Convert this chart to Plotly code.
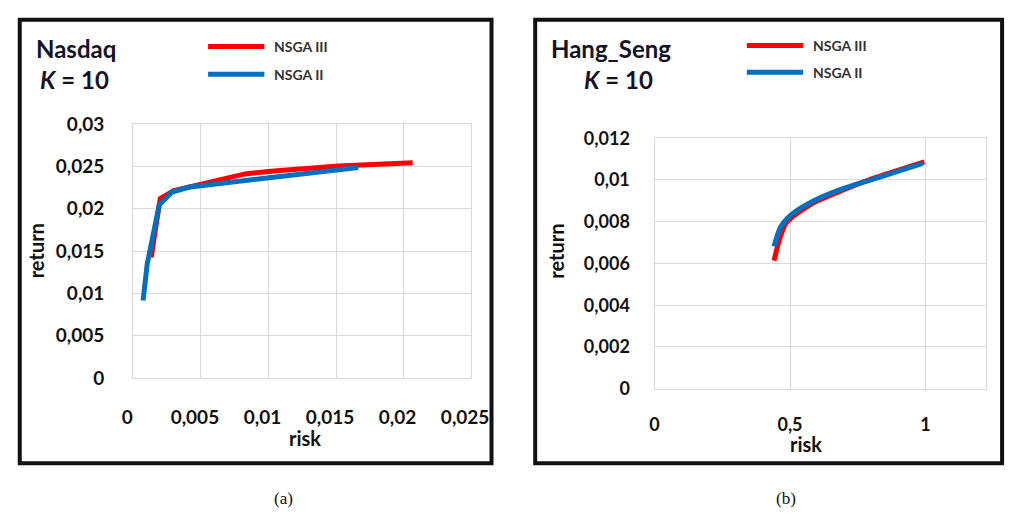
import plotly.graph_objects as go

# Efficient frontiers (risk vs. return) for two markets, K = 10 assets
nasdaq_nsga3_risk = [0.00132, 0.00199, 0.0030, 0.00515, 0.00826, 0.01018, 0.0152, 0.02067]
nasdaq_nsga3_return = [0.01425, 0.0212, 0.02214, 0.0229, 0.0241, 0.0244, 0.02504, 0.02541]
nasdaq_nsga2_risk = [0.00072, 0.00103, 0.00192, 0.00287, 0.00407, 0.00515, 0.01006, 0.01664]
nasdaq_nsga2_return = [0.00917, 0.0135, 0.02045, 0.02196, 0.02252, 0.0227, 0.02365, 0.02485]

hangseng_nsga3_risk = [0.441, 0.459, 0.483, 0.506, 0.590, 0.698, 0.817, 0.996]
hangseng_nsga3_return = [0.00614, 0.00705, 0.00789, 0.0082, 0.00893, 0.00953, 0.01012, 0.01087]
hangseng_nsga2_risk = [0.441, 0.465, 0.506, 0.590, 0.698, 0.817, 0.990]
hangseng_nsga2_return = [0.00682, 0.00774, 0.00835, 0.00902, 0.00960, 0.01008, 0.0108]

nasdaq_x_ticks = [0, 0.005, 0.01, 0.015, 0.02, 0.025]
nasdaq_y_ticks = [0, 0.005, 0.01, 0.015, 0.02, 0.025, 0.03]
hangseng_x_ticks = [0, 0.5, 1]
hangseng_y_ticks = [0, 0.002, 0.004, 0.006, 0.008, 0.01, 0.012]

series_names = ["NSGA III", "NSGA II"]
panel_titles = ["Nasdaq", "Hang_Seng"]
captions = ["(a)", "(b)"]

W, H = 1023, 525
RED = "#ff0000"
BLUE = "#0070c0"
GRID = "#d9d9d9"
FONT = "Lato"


def px(x):
    return x / W


def py(y):
    return 1 - y / H


fig = go.Figure()

fig.add_trace(go.Scatter(x=nasdaq_nsga3_risk, y=nasdaq_nsga3_return, name=series_names[0],
                         mode="lines", line=dict(color=RED, width=5), xaxis="x", yaxis="y",
                         showlegend=False))
fig.add_trace(go.Scatter(x=nasdaq_nsga2_risk, y=nasdaq_nsga2_return, name=series_names[1],
                         mode="lines", line=dict(color=BLUE, width=5), xaxis="x", yaxis="y",
                         showlegend=False))
fig.add_trace(go.Scatter(x=hangseng_nsga3_risk, y=hangseng_nsga3_return, name=series_names[0],
                         mode="lines", line=dict(color=RED, width=5, shape="spline", smoothing=0.7),
                         xaxis="x2", yaxis="y2", showlegend=False))
fig.add_trace(go.Scatter(x=hangseng_nsga2_risk, y=hangseng_nsga2_return, name=series_names[1],
                         mode="lines", line=dict(color=BLUE, width=5, shape="spline", smoothing=0.7),
                         xaxis="x2", yaxis="y2", showlegend=False))

axis_common = dict(showgrid=True, gridcolor=GRID, gridwidth=1.3, zeroline=False,
                   showline=True, linecolor=GRID, linewidth=1.3, mirror=True,
                   ticks="", tickangle=0, fixedrange=True)

fig.update_layout(
    width=W, height=H,
    margin=dict(l=0, r=0, t=0, b=0),
    paper_bgcolor="white", plot_bgcolor="white",
    separators=",.",
    showlegend=False,
    xaxis=dict(axis_common, domain=[px(125), px(473)], range=[0, 0.025], anchor="y",
               tickvals=nasdaq_x_ticks, ticklabelstandoff=22, ticklabelshift=-6,
               tickfont=dict(family=FONT, size=19, color="#111", weight="bold")),
    yaxis=dict(axis_common, domain=[py(383), py(117)], range=[0, 0.03], anchor="x",
               tickvals=nasdaq_y_ticks, ticklabelstandoff=24,
               tickfont=dict(family=FONT, size=19, color="#111", weight="bold")),
    xaxis2=dict(axis_common, domain=[px(662), px(1003)], range=[0, 1.222], anchor="y2",
                tickvals=hangseng_x_ticks, ticklabelstandoff=20,
                tickfont=dict(family=FONT, size=18, color="#111", weight="bold")),
    yaxis2=dict(axis_common, domain=[py(394), py(132)], range=[0, 0.012], anchor="x2",
                tickvals=hangseng_y_ticks, ticklabelstandoff=20,
                tickfont=dict(family=FONT, size=18, color="#111", weight="bold")),
)

shapes = []
# panel frames
for (x0, y0, x1, y1) in [(8, 8, 494, 472), (539, 8, 1020, 472)]:
    shapes.append(dict(type="rect", xref="paper", yref="paper",
                       x0=px(x0), x1=px(x1), y0=py(y1), y1=py(y0),
                       line=dict(color="#111", width=4), fillcolor="rgba(0,0,0,0)"))

annotations = []


def text(x, y, s, size, weight="bold", color="#111", xanchor="center", angle=0, family=FONT):
    annotations.append(dict(xref="paper", yref="paper", x=px(x), y=py(y), text=s,
                            showarrow=False, xanchor=xanchor, yanchor="middle",
                            textangle=angle,
                            font=dict(family=family, size=size, color=color, weight=weight)))


# legends: line swatch + label for each panel
legend_layout = [
    (202, 260, 268, [36, 65]),
    (757, 815, 823, [35, 63]),
]
for (lx0, lx1, tx, ys) in legend_layout:
    for name, color, y in zip(series_names, [RED, BLUE], ys):
        shapes.append(dict(type="line", xref="paper", yref="paper",
                           x0=px(lx0), x1=px(lx1), y0=py(y), y1=py(y),
                           line=dict(color=color, width=5)))
        text(tx, y, name, 14, color="#333", xanchor="left")

# panel titles
text(23, 38, panel_titles[0], 24, xanchor="left", color="#141428")
text(27, 71, "<i>K</i> = 10", 24, xanchor="left", color="#141428")
text(553, 38, panel_titles[1], 24, xanchor="left", color="#141428")
text(587, 71, "<i>K</i> = 10", 24, xanchor="left", color="#141428")

# axis titles
text(302, 446, "risk", 20)
text(25, 250, "return", 20, angle=-90)
text(818, 452, "risk", 20)
text(560, 250, "return", 20, angle=-90)

# sub-figure captions
text(280, 509, captions[0], 17, weight="normal", family="Liberation Serif")
text(797, 509, captions[1], 17, weight="normal", family="Liberation Serif")

fig.update_layout(shapes=shapes, annotations=annotations)

fig.write_html("out.html")
